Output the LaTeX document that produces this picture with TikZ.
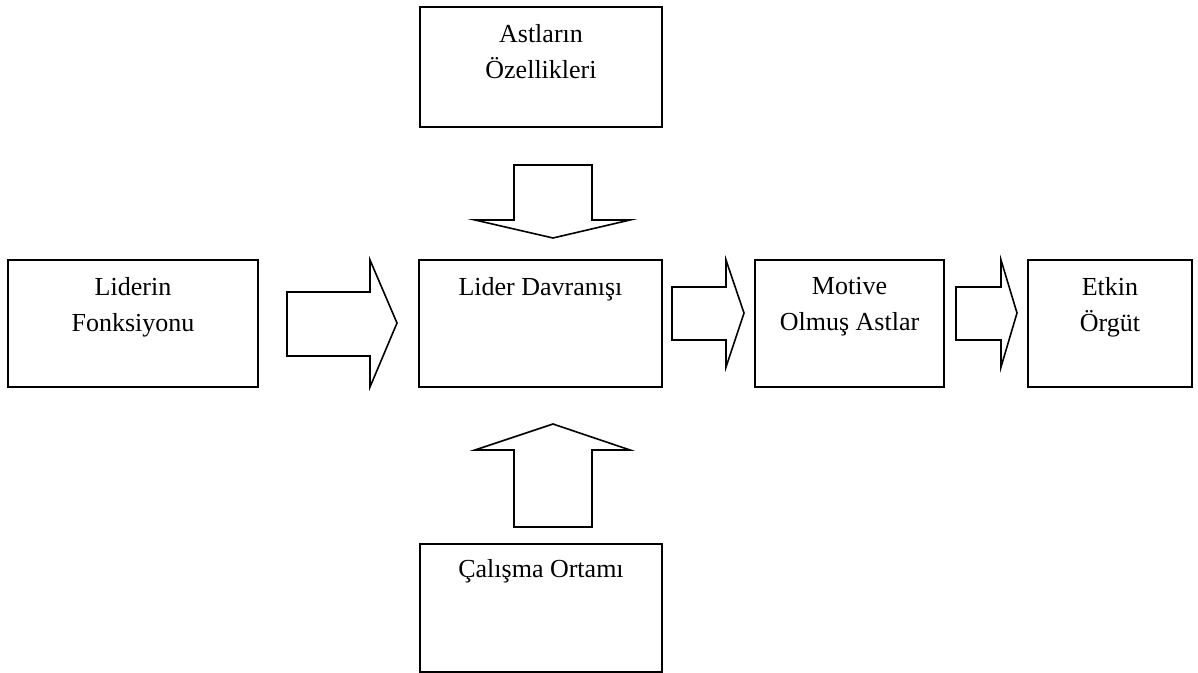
\documentclass[tikz,border=0pt]{standalone}
\usepackage{fontspec}
\setmainfont{Liberation Serif}
\usetikzlibrary{positioning}
\begin{document}
\begin{tikzpicture}[x=0.5pt,y=-0.5pt,
    kutu/.style={draw, line width=0.9pt, inner sep=0pt},
    yazi/.style={align=center, inner sep=0pt, font=\fontsize{13}{18}\selectfont},
    okblok/.style={draw, line width=0.8pt, line join=miter}]

    \useasboundingbox (0,0) rectangle (1198,673);

    % kutular
    \node[kutu, minimum width=121pt, minimum height=60pt] (astlar) at (541,67) {};
    \node[kutu, minimum width=125pt, minimum height=63.5pt] (fonk) at (133,323.5) {};
    \node[kutu, minimum width=121.5pt, minimum height=63.5pt] (davr) at (540.5,323.5) {};
    \node[kutu, minimum width=94.5pt, minimum height=63.5pt] (motive) at (849.5,323.5) {};
    \node[kutu, minimum width=82pt, minimum height=63.5pt] (etkin) at (1110,323.5) {};
    \node[kutu, minimum width=121pt, minimum height=64pt] (ortam) at (541,608) {};

    % yazilar
    \node[yazi, below=9pt of astlar.north] (astlarT) {Astların\\Özellikleri};
    \node[yazi, below=9pt of fonk.north] (fonkT) {Liderin\\Fonksiyonu};
    \node[yazi, below=9pt of davr.north] (davrT) {Lider Davranışı};
    \node[yazi, below=9pt of motive.north] (motiveT) {Motive\\Olmuş Astlar};
    \node[yazi, below=9pt of etkin.north] (etkinT) {Etkin\\Örgüt};
    \node[yazi, below=8pt of ortam.north] (ortamT) {Çalışma Ortamı};

    % blok oklar
    \draw[okblok] (514,165) -- (592,165) -- (592,220) -- (630,220) -- (553,238)
        -- (475,220) -- (514,220) -- cycle;
    \draw[okblok] (553,424) -- (630,450) -- (592,450) -- (592,527) -- (514,527)
        -- (514,450) -- (475,450) -- cycle;
    \draw[okblok] (287,292) -- (370,292) -- (370,260) -- (397,323) -- (370,387)
        -- (370,356) -- (287,356) -- cycle;
    \draw[okblok] (672,287) -- (726,287) -- (726,260) -- (744,313) -- (726,367)
        -- (726,340) -- (672,340) -- cycle;
    \draw[okblok] (956,287) -- (1001,287) -- (1001,260) -- (1017,313) -- (1001,367)
        -- (1001,340) -- (956,340) -- cycle;

\end{tikzpicture}
\end{document}
